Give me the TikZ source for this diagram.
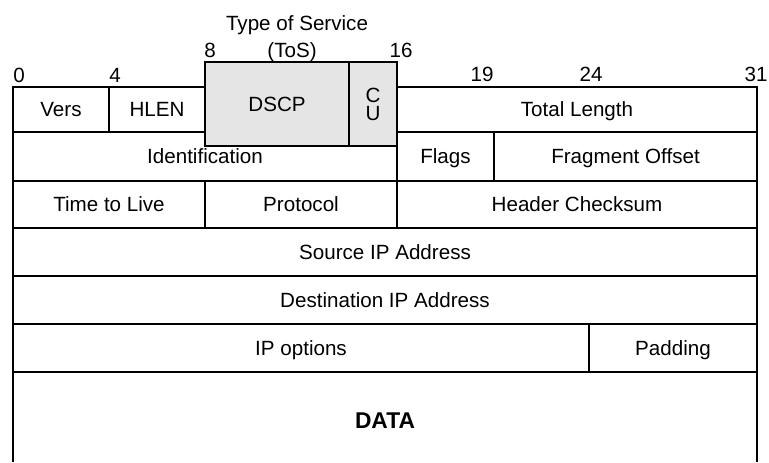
\documentclass[tikz,border=0pt]{standalone}
\usepackage{fontspec}
\setmainfont{Liberation Sans}
\usetikzlibrary{fit}

\tikzset{
  field/.style={draw, line width=1pt, inner sep=0pt, outer sep=0pt},
  tosbox/.style={field, fill=gray!20},
  txt/.style={inner sep=0pt, font=\fontsize{10.3}{12}\selectfont,
    text height=7.4pt, text depth=0pt},
  every label/.style={txt},
}

\begin{document}
\begin{tikzpicture}[x=0.5pt, y=-0.5pt]
\useasboundingbox (0,0) rectangle (769,462);
% bit positions and ToS caption
\foreach \b/\x/\y in {0/19/75, 4/115/75, 8/210/50, 16/401/50, 19/482/74, 24/591/74, 31/756/74}
  \node[txt] (bit\b) at (\x,\y) {\b};
\node[txt] (toscap) at (297,23) {Type of Service};
\node[txt] (tosabbr) at (292,50) {(ToS)};
% word 1
\node[field, fit={(13,87) (109,132)}, label=center:Vers] (vers) {};
\node[field, fit={(109,87) (205,132)}, label=center:HLEN] (hlen) {};
\node[field, fit={(397,87) (757,132)}, label=center:Total Length] (totlen) {};
% word 2
\node[field, fit={(13,132) (397,181)}, label=center:Identification] (ident) {};
\node[field, fit={(397,132) (494,181)}, label=center:Flags] (flags) {};
\node[field, fit={(494,132) (757,181)}, label=center:Fragment Offset] (fragoff) {};
% ToS byte on top
\node[tosbox, fit={(205,62) (349,146)}, label=center:DSCP] (dscp) {};
\node[tosbox, fit={(349,62) (397,146)},
  label={[text height=, align=center, font=\fontsize{10.3}{9}\selectfont]center:{C\\U}}] (cu) {};
% word 3
\node[field, fit={(13,181) (205,228)}, label=center:Time to Live] (ttl) {};
\node[field, fit={(205,181) (397,228)}, label=center:Protocol] (proto) {};
\node[field, fit={(397,181) (757,228)}, label=center:Header Checksum] (chksum) {};
% words 4 to 6
\node[field, fit={(13,228) (757,276)}, label=center:Source IP Address] (srcip) {};
\node[field, fit={(13,276) (757,324)}, label=center:Destination IP Address] (dstip) {};
\node[field, fit={(13,324) (589,372)}, label=center:IP options] (ipopt) {};
\node[field, fit={(589,324) (757,372)}, label=center:Padding] (pad) {};
% payload, open at the bottom
\coordinate (dataL) at (13,462);
\coordinate (dataR) at (757,462);
\draw[line width=1pt] (dataL) -- (ipopt.south west) -- (pad.south east) -- (dataR);
\node[txt, font=\fontsize{11.4}{13}\bfseries, text height=8.2pt] (data) at (385,420) {DATA};
\end{tikzpicture}
\end{document}
